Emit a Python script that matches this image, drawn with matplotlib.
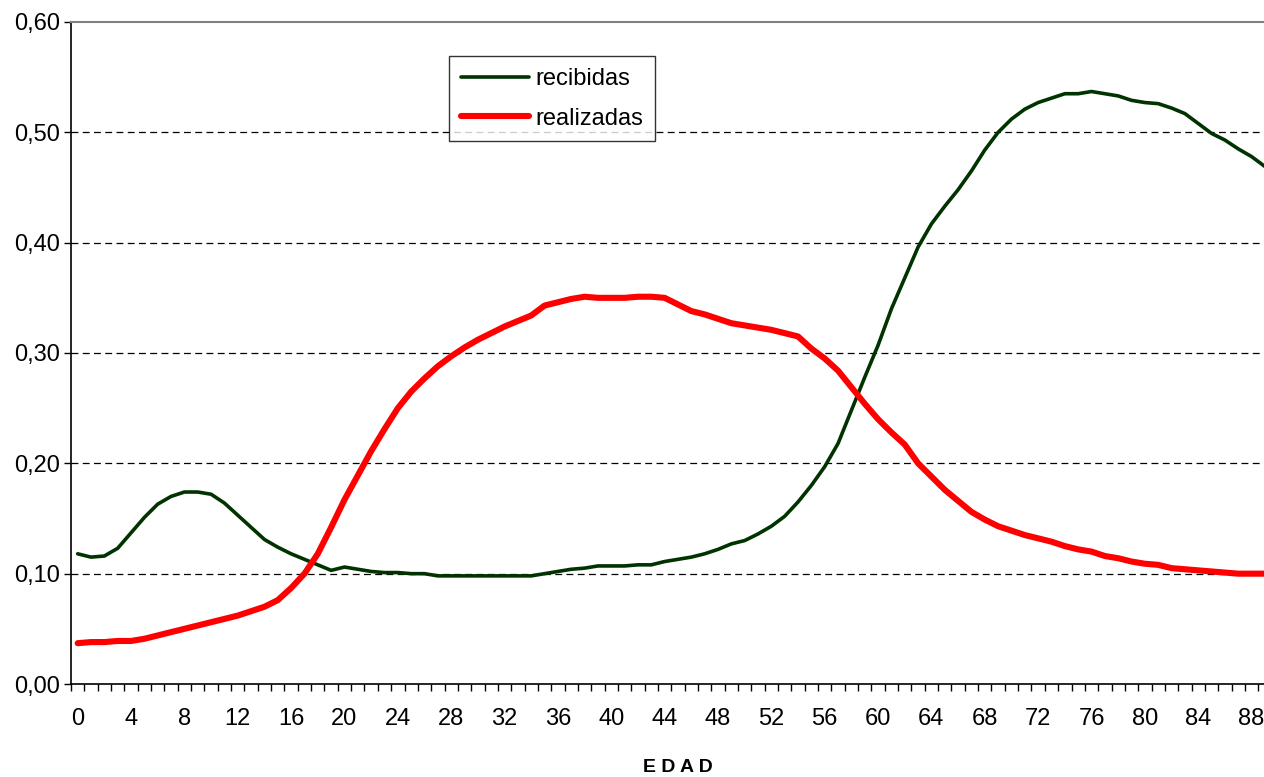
import matplotlib
matplotlib.use("Agg")
import matplotlib.pyplot as plt
from matplotlib.ticker import FuncFormatter, FixedLocator

plt.rcParams['font.family'] = ['Liberation Sans', 'DejaVu Sans']

# edades 0..89
edad = list(range(90))

recibidas = [0.118, 0.115, 0.116, 0.123, 0.137, 0.151, 0.163, 0.170, 0.174, 0.174,
             0.172, 0.164, 0.153, 0.142, 0.131, 0.124, 0.118, 0.113, 0.108, 0.103,
             0.106, 0.104, 0.102, 0.101, 0.101, 0.100, 0.100, 0.098, 0.098, 0.098,
             0.098, 0.098, 0.098, 0.098, 0.098, 0.100, 0.102, 0.104, 0.105, 0.107,
             0.107, 0.107, 0.108, 0.108, 0.111, 0.113, 0.115, 0.118, 0.122, 0.127,
             0.130, 0.136, 0.143, 0.152, 0.165, 0.180, 0.197, 0.218, 0.248, 0.278,
             0.307, 0.340, 0.368, 0.396, 0.417, 0.433, 0.448, 0.465, 0.484, 0.500,
             0.512, 0.521, 0.527, 0.531, 0.535, 0.535, 0.537, 0.535, 0.533, 0.529,
             0.527, 0.526, 0.522, 0.517, 0.508, 0.499, 0.493, 0.485, 0.478, 0.469]

realizadas = [0.037, 0.038, 0.038, 0.039, 0.039, 0.041, 0.044, 0.047, 0.050, 0.053,
              0.056, 0.059, 0.062, 0.066, 0.070, 0.076, 0.087, 0.100, 0.118, 0.142,
              0.167, 0.189, 0.211, 0.231, 0.250, 0.265, 0.277, 0.288, 0.297, 0.305,
              0.312, 0.318, 0.324, 0.329, 0.334, 0.343, 0.346, 0.349, 0.351, 0.350,
              0.350, 0.350, 0.351, 0.351, 0.350, 0.344, 0.338, 0.335, 0.331, 0.327,
              0.325, 0.323, 0.321, 0.318, 0.315, 0.304, 0.295, 0.284, 0.269, 0.254,
              0.240, 0.228, 0.217, 0.200, 0.188, 0.176, 0.166, 0.156, 0.149, 0.143,
              0.139, 0.135, 0.132, 0.129, 0.125, 0.122, 0.120, 0.116, 0.114, 0.111,
              0.109, 0.108, 0.105, 0.104, 0.103, 0.102, 0.101, 0.100, 0.100, 0.100]

fig = plt.figure(figsize=(12.64, 7.77), dpi=100)
ax = fig.add_axes([71 / 1264, 93 / 777, 1193 / 1264, 662 / 777])

ax.plot(edad, recibidas, color='#003300', lw=2.6, label='recibidas', solid_capstyle='round')
ax.plot(edad, realizadas, color='#ff0000', lw=4.4, label='realizadas', solid_capstyle='round')

ax.set_xlim(-0.5, 88.93)
ax.set_ylim(0, 0.6)

# rejilla horizontal discontinua
for v in [0.1, 0.2, 0.3, 0.4, 0.5]:
    ax.axhline(v, color='black', lw=0.9, dashes=(5.5, 3.5), zorder=0)

ax.set_yticks([0, 0.1, 0.2, 0.3, 0.4, 0.5, 0.6])
ax.yaxis.set_major_formatter(FuncFormatter(lambda v, p: f"{v:.2f}".replace('.', ',')))
ax.tick_params(axis='y', direction='out', length=5, width=1, pad=3, labelsize=17)

ax.set_xticks(list(range(0, 89, 4)))
ax.xaxis.set_minor_locator(FixedLocator([i - 0.5 for i in range(90)]))
ax.tick_params(axis='x', which='major', length=0, pad=17, labelsize=17)
ax.tick_params(axis='x', which='minor', direction='out', length=5, width=1)

ax.spines['right'].set_visible(False)
ax.spines['top'].set_color('#808080')
ax.spines['top'].set_linewidth(1.5)
ax.spines['left'].set_linewidth(1.2)
ax.spines['bottom'].set_linewidth(1.2)

leg = ax.legend(loc='upper left', bbox_to_anchor=(378 / 1193, (684 - 56) / 662),
                fontsize=17, frameon=True, fancybox=False, edgecolor='black',
                handlelength=2.9, handletextpad=0.25, borderpad=0.5, labelspacing=0.75,
                borderaxespad=0)
leg.get_frame().set_linewidth(1.0)

fig.text(678 / 1264, 1 - 768 / 777, 'E D A D', ha='center', va='center',
         fontsize=14, fontweight='bold')

fig.savefig('out.png', dpi=100)
